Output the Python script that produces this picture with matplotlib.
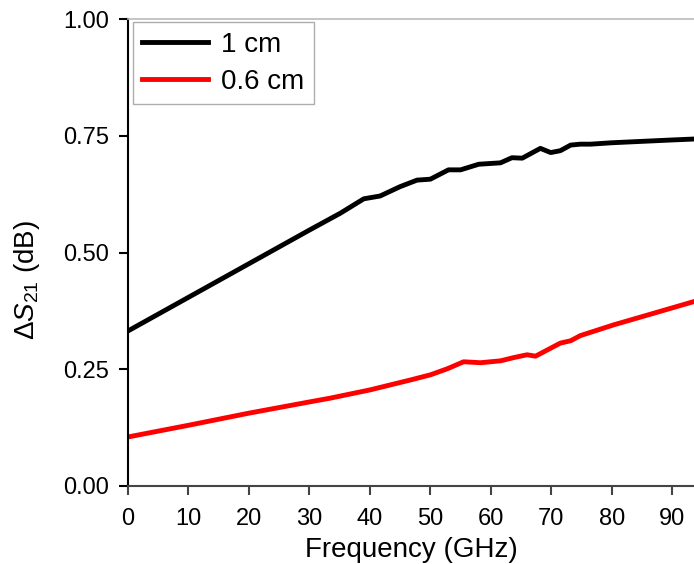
import matplotlib
matplotlib.use("Agg")
import matplotlib.pyplot as plt

# Frequency sweep (GHz) and measured S21 change (dB) for the two lengths
freq_1cm = [0, 10, 20, 30, 35.1, 39.0, 41.7, 45.0, 47.8, 50.0, 53.0, 55.0, 58.0,
            61.6, 63.5, 65.2, 68.2, 69.9, 71.5, 73.2, 74.8, 76.5, 80, 85, 90, 93.6]
ds21_1cm = [0.332, 0.404, 0.476, 0.548, 0.584, 0.615, 0.621, 0.641, 0.655, 0.657,
            0.677, 0.677, 0.689, 0.692, 0.703, 0.702, 0.723, 0.714, 0.718, 0.730,
            0.732, 0.732, 0.735, 0.738, 0.741, 0.743]

freq_06cm = [0, 10, 20, 30, 33.4, 40.1, 46.7, 50.0, 52.8, 55.5, 58.3, 61.6, 63.8,
             66.0, 67.4, 69.3, 71.5, 73.2, 74.8, 80.3, 85.9, 93.6]
ds21_06cm = [0.105, 0.130, 0.156, 0.180, 0.188, 0.206, 0.227, 0.238, 0.251, 0.266,
             0.264, 0.268, 0.275, 0.281, 0.278, 0.291, 0.306, 0.311, 0.322, 0.345,
             0.366, 0.395]

labels = ["1 cm", "0.6 cm"]
xticks = [0, 10, 20, 30, 40, 50, 60, 70, 80, 90]
yticks = [0.00, 0.25, 0.50, 0.75, 1.00]

plt.rcParams['font.family'] = ['Liberation Sans', 'DejaVu Sans']
plt.rcParams['mathtext.fontset'] = 'custom'
plt.rcParams['mathtext.rm'] = 'Liberation Sans'
plt.rcParams['mathtext.it'] = 'Liberation Sans:italic'

fig = plt.figure(figsize=(6.94, 5.64), dpi=100)
ax = fig.add_axes([0.1844, 0.1383, 0.8156, 0.8280])

ax.plot(freq_1cm, ds21_1cm, color='black', lw=3.5, label=labels[0])
ax.plot(freq_06cm, ds21_06cm, color='#ff0000', lw=3.5, label=labels[1])

ax.set_xlim(0, 93.6)
ax.set_ylim(0, 1.0)
ax.set_xticks(xticks)
ax.set_yticks(yticks)
ax.set_yticklabels(["%.2f" % v for v in yticks])

ax.spines['right'].set_visible(False)
ax.spines['top'].set_color('#bbbbbb')
ax.spines['top'].set_linewidth(1.2)
ax.spines['left'].set_linewidth(1.5)
ax.spines['bottom'].set_linewidth(1.5)
ax.spines['bottom'].set_color('#444444')
ax.tick_params(direction='out', length=6.5, width=1.5, labelsize=17)
ax.tick_params(axis='x', colors='#444444', labelcolor='black', pad=9)
ax.tick_params(axis='y', pad=7)

ax.set_xlabel("Frequency (GHz)", fontsize=20, labelpad=5.5)
ax.set_ylabel(r"$\Delta S_{21}$ (dB)", fontsize=20)
ax.yaxis.set_label_coords(-0.152, 0.441)

leg = ax.legend(loc='upper left', bbox_to_anchor=(0.008, 0.994), fontsize=20,
                frameon=True, fancybox=False, handlelength=2.35, borderaxespad=0,
                labelspacing=0.4, handletextpad=0.47, borderpad=0.35)
leg.get_frame().set_edgecolor('#999999')
leg.get_frame().set_linewidth(1.0)

fig.savefig("out.png", dpi=100)
